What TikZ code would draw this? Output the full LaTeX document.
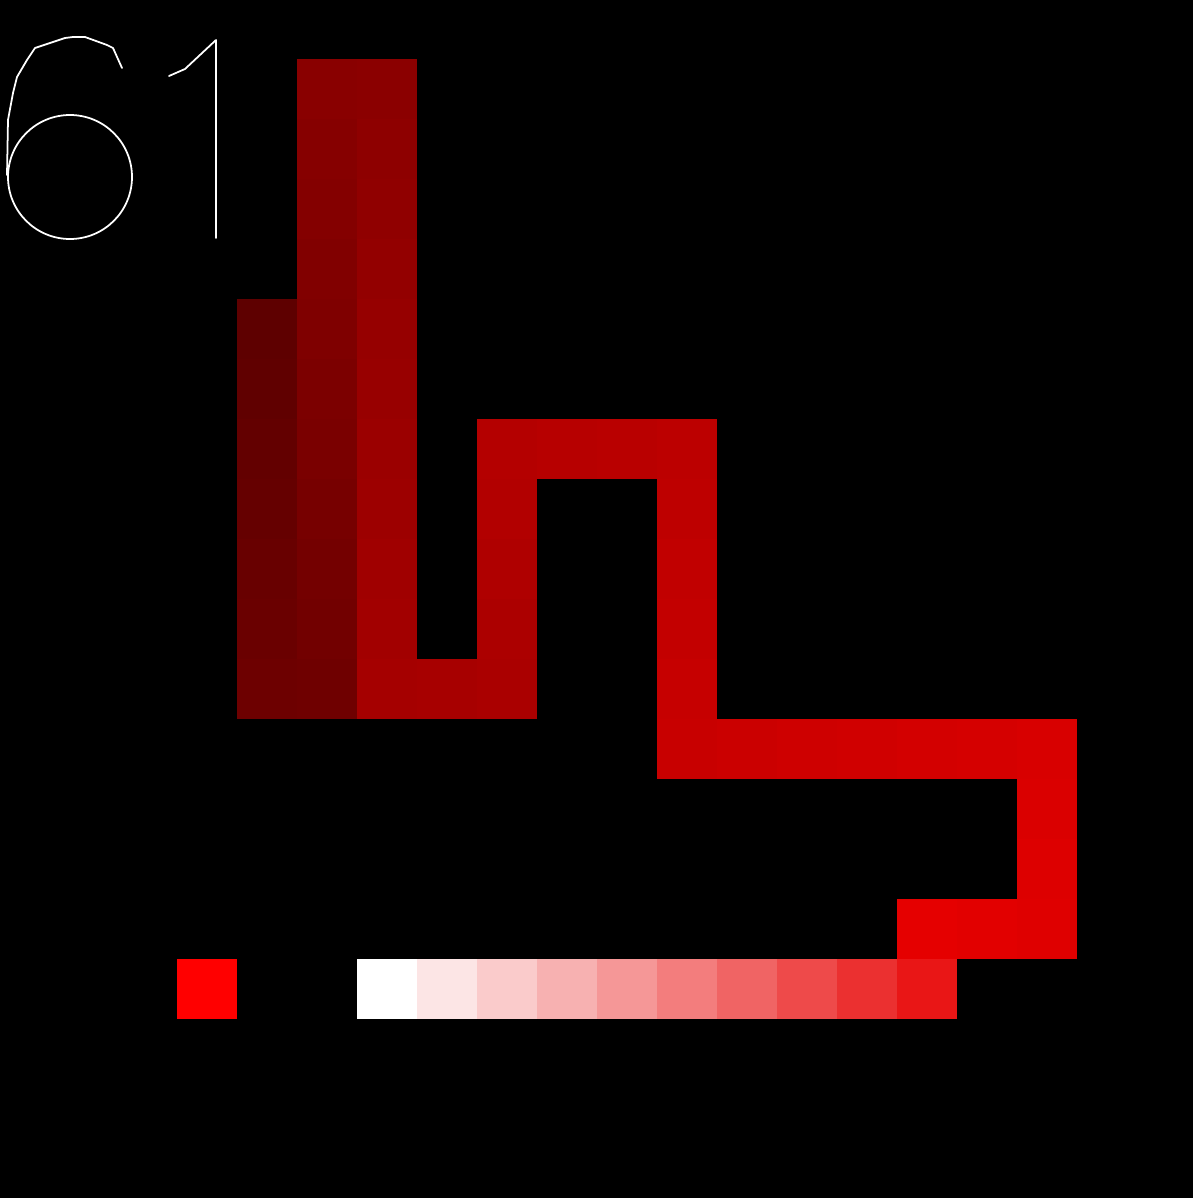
\documentclass[tikz,border=0pt]{standalone}
\usetikzlibrary{calc}
\tikzset{
  hatter/.style={fill=black},
  vonal/.style={draw=white,line width=1pt,line join=round,line cap=round},
}
% one grid cell: column, row, colour
\newcommand{\cella}[3]{\fill[#3] ({57+60*(#1)},{-1+60*(#2)}) rectangle ++(60,60);}

\begin{document}
\begin{tikzpicture}[x=0.2mm,y=-0.2mm]
  % background
  \fill[hatter] (0,0) rectangle (1193,1198);
  % the path, darkest to brightest
  \foreach \o/\s [count=\k from 0] in {3/5,3/6,3/7,3/8,3/9,3/10,3/11,
      4/11,4/10,4/9,4/8,4/7,4/6,4/5,4/4,4/3,4/2,4/1,
      5/1,5/2,5/3,5/4,5/5,5/6,5/7,5/8,5/9,5/10,5/11,
      6/11,7/11,7/10,7/9,7/8,7/7,8/7,9/7,
      10/7,10/8,10/9,10/10,10/11,10/12,
      11/12,12/12,13/12,14/12,15/12,16/12,
      16/13,16/14,16/15,15/15,14/15}{
    \pgfmathtruncatemacro{\v}{94+\k*135/53}
    \definecolor{szin}{RGB}{\v,0,0}
    \cella{\o}{\s}{szin}
  }
  % legend
  \cella{2}{16}{red}
  \foreach \j in {0,...,9}{
    \pgfmathtruncatemacro{\rr}{255-2.4*\j}
    \pgfmathtruncatemacro{\gg}{255-25.8*\j}
    \definecolor{skala}{RGB}{\rr,\gg,\gg}
    \cella{\j+5}{16}{skala}
  }
  % the number
  \draw[vonal] (122,68) -- (113,48) -- (107,45) -- (85,37) -- (73,37) -- (65,38)
    -- (53,42) -- (35,48) -- (27,60) -- (17,77) -- (13,93) -- (8,120) -- (7,175);
  \draw[vonal] (70,177) circle[radius=62];
  \draw[vonal] (169,76) -- (185,69) -- (216,40) -- (216,238);
\end{tikzpicture}
\end{document}
